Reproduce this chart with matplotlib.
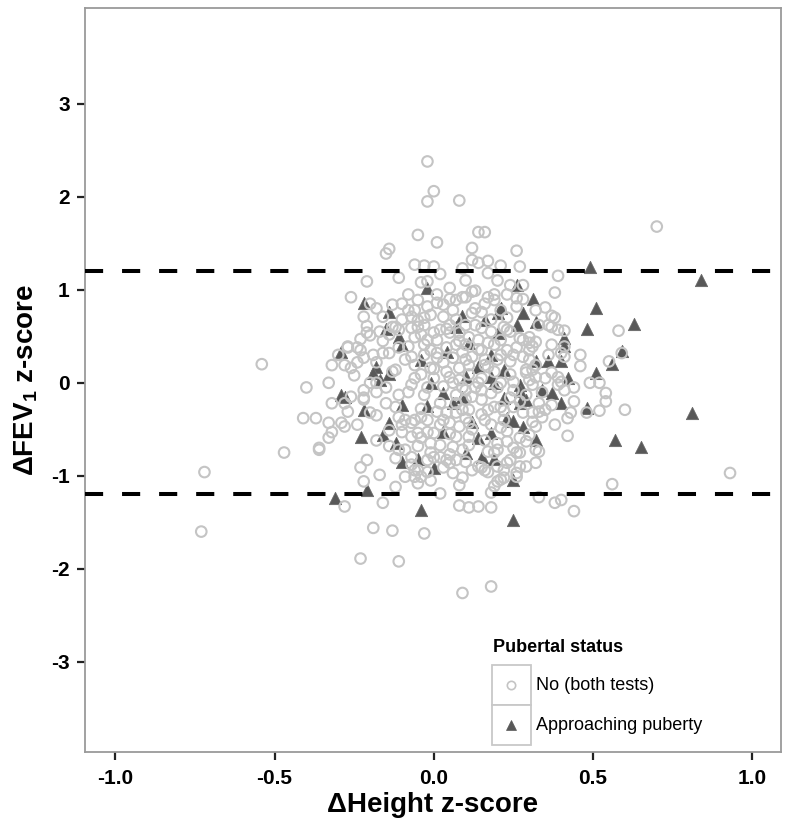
import matplotlib
matplotlib.use("Agg")
import matplotlib.pyplot as plt
from matplotlib.patches import Rectangle

# ---------------- data ----------------
# Pubertal status: "Approaching puberty" (filled triangles)
tri_x = [0.49, 0.84, 0.26, -0.02, -0.22, -0.14, -0.15, 0.09, 0.16, 0.20, 0.20, 0.26, 0.28, 0.31, 0.32,
         -0.11, -0.10, 0.51, 0.48, 0.63, 0.41, 0.41, 0.59, 0.56, 0.51, 0.32, 0.36, 0.40, 0.22, 0.27,
         0.27, 0.34, 0.37, 0.42, 0.29, 0.40, 0.48, 0.23, 0.25, 0.28, 0.32, 0.81, 0.57, 0.65, 0.25,
         0.25, -0.29, -0.18, -0.19, -0.14, -0.17, -0.29, -0.28, -0.22, -0.10, -0.02, -0.01, 0.06, 0.14,
         0.18, 0.22, 0.09, -0.14, -0.23, -0.16, -0.12, 0.03, 0.14, 0.18, -0.10, -0.05, 0.10, 0.15,
         0.19, 0.00, -0.31, -0.21, -0.04, 0.10, 0.03, 0.19, 0.27, 0.12, 0.21, 0.18, 0.04, 0.11, 0.07,
         -0.04]
tri_y = [1.25, 1.10, 1.05, 1.02, 0.86, 0.76, 0.58, 0.72, 0.67, 0.75, 0.54, 0.62, 0.75, 0.90, 0.65,
         0.49, 0.41, 0.80, 0.58, 0.63, 0.48, 0.40, 0.34, 0.20, 0.11, 0.23, 0.23, 0.23, 0.14, -0.02,
         -0.09, -0.08, -0.11, 0.05, -0.19, -0.22, -0.27, -0.38, -0.41, -0.48, -0.61, -0.33, -0.61, -0.69, -1.04,
         -1.47, 0.33, 0.17, 0.11, 0.09, 0.03, -0.13, -0.15, -0.29, -0.24, -0.25, 0.00, -0.22, 0.17,
         0.06, -0.16, -0.15, -0.43, -0.58, -0.56, -0.65, -0.53, -0.59, -0.54, -0.85, -0.82, -0.75, -0.80,
         -0.82, -0.92, -1.24, -1.15, -1.37, 0.06, -0.11, 0.00, -0.22, -0.42, 0.80, 0.30, 0.33, 0.43, 0.60,
         0.25]

# Pubertal status: "No (both tests)" (open circles)
circ_x = [-0.02, 0.00, -0.02, 0.08, -0.05, 0.01, 0.14, 0.16, 0.12, 0.26, -0.14, -0.15, -0.06, -0.03, 0.12,
          0.17, 0.14, 0.09, 0.21, 0.27, 0.17, 0.02, -0.11, -0.21, -0.04, -0.26, 0.01, 0.09, 0.10, 0.12,
          0.13, 0.17, 0.19, 0.24, 0.26, -0.05, -0.20, -0.13, 0.03, 0.70, 0.39, 0.38, 0.28, 0.58, 0.37,
          0.38, 0.41, 0.46, 0.46, 0.55, 0.59, 0.49, 0.52, 0.44, 0.54, 0.54, 0.60, 0.52, 0.48, 0.44,
          0.43, 0.42, 0.42, 0.93, 0.56, 0.44, 0.40, 0.41, 0.39, 0.40, 0.31, 0.33, 0.32, 0.32, 0.32,
          0.29, 0.27, 0.26, 0.23, 0.25, 0.37, 0.34, 0.31, 0.32, 0.30, 0.31, 0.28, 0.30, 0.37,
          -0.54, -0.40, -0.41, -0.47, -0.72, -0.73, -0.33, -0.32, -0.28, -0.37, -0.33, -0.29, -0.28, -0.32,
          -0.33, -0.36, -0.20, -0.27, -0.26, -0.22, -0.22, -0.18, -0.15, -0.18, -0.21, -0.23, -0.17, -0.22,
          -0.12, -0.16, -0.28, -0.12, -0.07, -0.05, -0.02, -0.06, -0.05, -0.09, -0.11, -0.09, -0.07, -0.06,
          -0.04, -0.02, -0.12, -0.10, -0.07, -0.05, -0.04, -0.02, -0.09, -0.11, -0.14,
          -0.36, -0.19, -0.13, -0.03, -0.23, -0.11, 0.09, 0.18, 0.02, 0.08, 0.11, 0.14, 0.18, 0.18,
          0.20, 0.19, 0.26, -0.04, -0.06, -0.02, 0.00, 0.03, 0.06, 0.09, 0.04, 0.07, 0.10, 0.15,
          0.17, 0.22, 0.33, 0.19,
          0.19, 0.01, 0.06, 0.13, 0.15, 0.23, 0.26, 0.35, 0.36, 0.32, 0.37, 0.41, 0.39, 0.22, 0.23,
          0.17, 0.19, 0.21, 0.23, 0.26, 0.30, 0.28, 0.30, 0.32, 0.24, 0.14, 0.11, 0.08, 0.05, 0.02,
          0.03, 0.07, 0.00, 0.04, 0.07, 0.09, 0.01, 0.03, 0.06, 0.12, 0.11, 0.20, 0.17, 0.29,
          -0.02, -0.22, -0.21, -0.16, -0.13, -0.10, -0.07, -0.03, -0.11, -0.07, -0.05, -0.20, -0.23, -0.14,
          -0.27, -0.24, -0.32, -0.28, -0.22, -0.19, -0.16, -0.14, -0.07, -0.03, -0.24, -0.18, -0.06, -0.04,
          -0.02, -0.11, -0.08, -0.02,
          0.29, 0.30, 0.37, 0.39, 0.41, 0.33, 0.35, 0.34, 0.31, 0.30, 0.26, 0.24, 0.22, 0.21, 0.16,
          0.14, 0.12, 0.05, -0.01, 0.02, -0.01, 0.02, 0.05, 0.06, 0.09, 0.11, 0.07, 0.11, 0.20,
          0.23, 0.27, 0.20, 0.17, 0.21, 0.11, 0.08, 0.05, 0.02, 0.00, 0.15, 0.17, 0.19, 0.09,
          0.07, 0.04, 0.01, 0.02, 0.07, 0.10, 0.12, 0.15, 0.18, 0.24, 0.25, 0.21, 0.28, 0.08,
          0.05, 0.11, 0.14, 0.15, 0.24, 0.25, 0.03, 0.33, 0.38, 0.40,
          -0.26, -0.27, -0.22, -0.23, -0.21,
          -0.06, -0.01, 0.05, 0.10, 0.15, 0.18, -0.03, 0.01, 0.10, 0.15, -0.06, -0.01, 0.08, 0.21,
          -0.04, 0.00, 0.10, -0.03, -0.07, -0.12, -0.11, 0.15, 0.07, 0.11, 0.22, 0.18, 0.29, 0.25,
          0.01, 0.16, 0.21, 0.07, 0.21, 0.32, -0.03, -0.08,
          -0.08, 0.05, 0.20, -0.12, -0.16, -0.09, -0.13, -0.01, 0.04, 0.08, 0.13, 0.16, 0.23, 0.27,
          0.25, 0.19, 0.13, 0.06, -0.02, -0.08, -0.15, -0.18, -0.10, -0.14, -0.05, 0.05, 0.12, 0.23,
          0.16, 0.27, 0.20, 0.08, -0.01, -0.07, -0.18, -0.24, -0.20, -0.25, -0.30, -0.18, 0.00, 0.10,
          0.28, 0.33, 0.36, 0.35, 0.38, 0.29, 0.10, 0.14, 0.04, -0.05, 0.03, 0.10, -0.04, 0.16,
          0.22, 0.27, 0.31, 0.24, 0.18, 0.12, 0.05, -0.10, -0.17, 0.00, -0.06, 0.09, 0.20, 0.16]
circ_y = [2.38, 2.06, 1.95, 1.96, 1.59, 1.51, 1.62, 1.62, 1.45, 1.42, 1.44, 1.39, 1.27, 1.26, 1.32,
          1.31, 1.29, 1.23, 1.26, 1.25, 1.18, 1.17, 1.13, 1.09, 1.08, 0.92, 0.95, 0.92, 0.92, 0.98,
          0.99, 0.92, 0.95, 1.05, 0.91, 0.89, 0.85, 0.84, 0.84, 1.68, 1.15, 0.97, 0.90, 0.56, 0.72,
          0.70, 0.56, 0.30, 0.18, 0.23, 0.32, 0.00, 0.00, -0.05, -0.11, -0.20, -0.29, -0.30, -0.32, -0.20,
          -0.32, -0.38, -0.57, -0.97, -1.09, -1.38, 0.32, 0.28, 0.06, 0.01, -0.32, -0.31, -0.47, -0.72, -0.86,
          -0.63, -0.90, -1.01, -0.86, -0.70, -0.24, -0.10, 0.14, 0.06, 0.35, 0.39, 0.46, 0.49, 0.60,
          0.20, -0.05, -0.38, -0.75, -0.96, -1.60, 0.00, -0.22, -0.22, -0.38, -0.43, -0.43, -0.47, -0.53,
          -0.59, -0.70, -0.32, -0.31, -0.15, -0.16, -0.08, -0.10, -0.05, 0.00, -0.83, -0.91, -0.99, -1.06,
          -1.12, -1.29, -1.33, -0.81, -0.80, -0.94, -0.96, -1.01, -1.08, -1.01, -0.37, -0.40, -0.43, -0.40,
          -0.37, -0.40, -0.26, -0.53, -0.58, -0.54, -0.59, -0.53, -0.72, -0.72, -0.51,
          -0.72, -1.56, -1.59, -1.62, -1.89, -1.92, -2.26, -2.19, -1.19, -1.32, -1.34, -1.33, -1.34, -1.18,
          -1.06, -1.11, -0.97, -1.01, -0.94, -0.83, -0.80, -0.91, -0.97, -1.02, -0.83, -0.83, -0.85, -0.91,
          -0.96, -1.02, -0.74, -0.75,
          0.89, 0.86, 0.78, 0.80, 0.76, 0.70, 0.82, 0.81, 0.62, 0.44, 0.41, 0.39, 0.57, 0.60, 0.57,
          0.43, 0.41, 0.46, 0.35, 0.38, 0.43, 0.28, 0.25, 0.19, 0.23, 0.46, 0.49, 0.54, 0.54, 0.57,
          0.71, 0.68, 0.54, 0.38, 0.41, 0.33, 0.32, 0.22, 0.27, 0.28, 0.19, 0.25, 0.17, 0.14,
          1.09, 0.71, 0.61, 0.71, 0.60, 0.68, 0.71, 0.70, 0.57, 0.59, 0.60, 0.51, 0.47, 0.52,
          0.38, 0.38, 0.19, 0.19, 0.27, 0.30, 0.32, 0.32, 0.28, 0.30, 0.22, 0.22, 0.49, 0.52,
          0.46, 0.38, 0.39, 0.82,
          0.11, 0.03, 0.11, -0.02, -0.08, -0.22, -0.29, -0.37, -0.42, -0.56, -0.75, -0.83, -0.94, -1.04, -0.94,
          -0.90, -0.94, -0.86, -0.65, -0.67, -0.75, -0.80, -0.77, -0.69, -0.72, -0.67, -0.58, -0.58, -0.65,
          -0.63, -0.59, -0.72, -0.74, -0.48, -0.43, -0.47, -0.43, -0.45, -0.54, -0.34, -0.29, -0.26, -0.29,
          -0.32, -0.32, -0.31, -0.22, -0.22, -0.18, -0.15, -0.08, -0.11, -0.16, -0.26, -0.26, -0.32, 0.03,
          0.06, 0.09, 0.00, 0.05, 0.09, 0.01, -0.04, -1.23, -1.29, -1.26,
          0.16, 0.39, -0.18, 0.35, 0.54,
          0.78, 0.73, 0.62, 0.62, 0.59, 0.68, 0.41, 0.46, 0.41, 0.35, 0.19, 0.16, 0.16, 0.00,
          0.09, 0.05, -0.08, -0.13, -0.02, 0.14, -0.13, -0.18, -0.13, -0.29, -0.40, -0.45, -0.13, -0.08,
          0.27, 0.19, 0.30, 0.89, 0.78, 0.78, 0.62, 0.78,
          0.95, 1.02, 1.10, 0.60, 0.45, 0.25, 0.12, 0.35, 0.12, 0.45, 0.62, 0.85, 0.95, 0.48,
          0.30, 0.12, -0.05, 0.00, -0.05, -0.10, -0.22, -0.35, -0.45, -0.68, -0.68, -0.55, -0.50, -0.52,
          -0.62, -0.75, -0.90, -1.10, -1.05, -0.88, -0.62, -0.45, 0.00, 0.08, 0.30, 0.80, 1.25, 1.10,
          1.05, 0.62, 0.30, 0.05, -0.45, -0.90, 0.25, 0.36, 0.58, 0.67, -0.40, -0.38, -0.28, -0.40,
          -0.30, -0.20, -0.02, 0.55, 0.55, 0.75, 0.90, 0.85, 0.55, 0.15, 0.05, -0.05, -0.05, 0.25]

x_ticks = [-1.0, -0.5, 0.0, 0.5, 1.0]
x_tick_labels = ["-1.0", "-0.5", "0.0", "0.5", "1.0"]
y_ticks = [-3, -2, -1, 0, 1, 2, 3]
y_tick_labels = ["-3", "-2", "-1", "0", "1", "2", "3"]
limits_of_agreement = [1.2, -1.2]
legend_title = "Pubertal status"
legend_labels = ["No (both tests)", "Approaching puberty"]

# ---------------- style ----------------
sans = ["Liberation Sans", "DejaVu Sans"]
plt.rcParams["font.family"] = sans
plt.rcParams["mathtext.fontset"] = "custom"
plt.rcParams["mathtext.rm"] = "Liberation Sans:bold"

CIRC = "#c4c4c4"
TRI = "#585858"
FRAME = "#9a9a9a"

fig = plt.figure(figsize=(8.0, 8.31), dpi=100)
ax = fig.add_axes([85 / 800, 1 - 752 / 831, 696 / 800, 744 / 831])

ax.scatter(tri_x, tri_y, marker="^", s=78, facecolor=TRI, edgecolor="#686868",
           linewidths=0.6, zorder=2)
ax.scatter(circ_x, circ_y, marker="o", s=58, facecolor="none", edgecolor=CIRC,
           linewidths=1.5, zorder=3)

for yv in limits_of_agreement:
    ax.axhline(yv, color="black", lw=2.9, dashes=(4.5, 4.7), zorder=4)

ax.set_xlim(-1.095, 1.09)
ax.set_ylim(-3.97, 4.03)
ax.set_xticks(x_ticks)
ax.set_xticklabels(x_tick_labels)
ax.set_yticks(y_ticks)
ax.set_yticklabels(y_tick_labels)
for lab in ax.get_xticklabels() + ax.get_yticklabels():
    lab.set_fontweight("bold")
    lab.set_fontsize(15)
ax.tick_params(axis="x", direction="out", length=6, width=1.6, color="#222222", pad=6)
ax.tick_params(axis="y", direction="out", length=6, width=1.6, color="#222222", pad=5)
for sp in ax.spines.values():
    sp.set_color(FRAME)
    sp.set_linewidth(1.3)

ax.set_xlabel("ΔHeight z-score", fontweight="bold", fontsize=20, labelpad=3)
ax.set_ylabel("ΔFEV$_\\mathrm{1}$ z-score", fontweight="bold", fontsize=20, labelpad=8)

# legend (keys in boxes, no outer frame)
ax.text(0.586, 0.140, legend_title, transform=ax.transAxes, ha="left", va="center",
        fontsize=13, fontweight="bold")
for i, (lab, mk) in enumerate(zip(legend_labels, ["o", "^"])):
    y0 = 0.063 - i * 0.0536
    ax.add_patch(Rectangle((0.585, y0), 0.056, 0.0536, transform=ax.transAxes,
                           facecolor="white", edgecolor="#c8c8c8", lw=1.3, zorder=5))
    yc = y0 + 0.0268
    if mk == "o":
        ax.plot([0.612], [yc], marker="o", ms=6, mfc="none", mec=CIRC, mew=1.2,
                transform=ax.transAxes, zorder=6, clip_on=False)
    else:
        ax.plot([0.612], [yc], marker="^", ms=7, mfc=TRI, mec=TRI, mew=0.5,
                transform=ax.transAxes, zorder=6, clip_on=False)
    ax.text(0.648, yc, lab, transform=ax.transAxes, ha="left", va="center",
            fontsize=13, zorder=6)

fig.savefig("out.png", dpi=100)
